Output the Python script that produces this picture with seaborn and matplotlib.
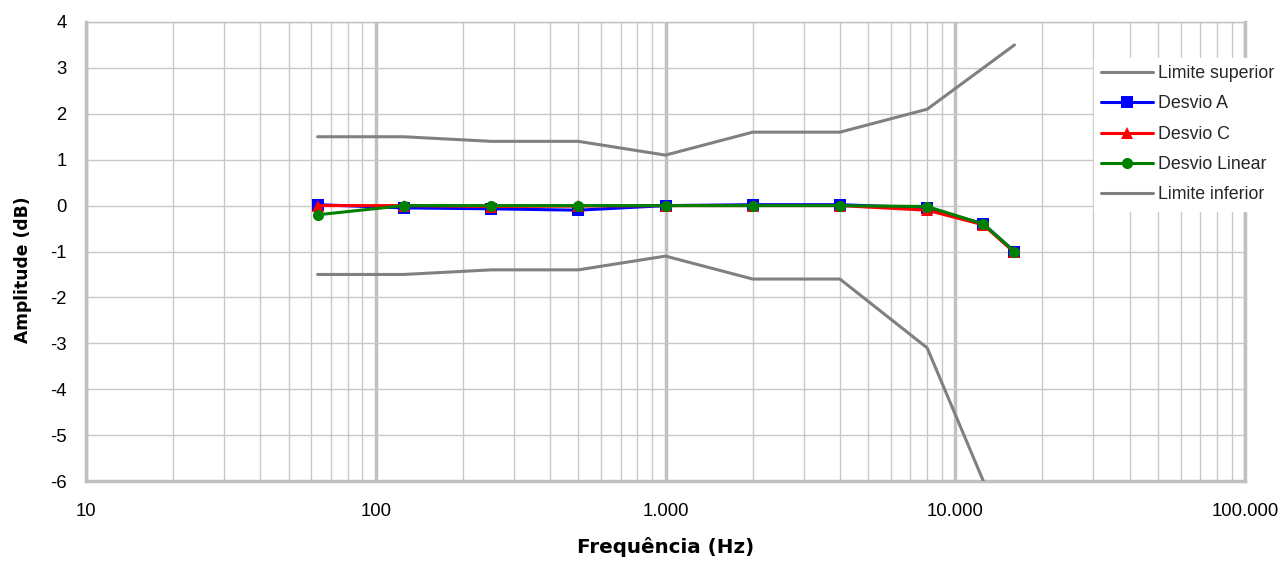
import matplotlib
matplotlib.use("Agg")
import matplotlib.pyplot as plt
import matplotlib.ticker as mticker
import seaborn as sns
import pandas as pd

freqs = [63, 125, 250, 500, 1000, 2000, 4000, 8000, 12500, 16000]
limite_superior = [1.5, 1.5, 1.4, 1.4, 1.1, 1.6, 1.6, 2.1, 3.0, 3.5]
desvio_a = [0.02, -0.05, -0.07, -0.1, 0.0, 0.02, 0.02, -0.05, -0.4, -1.0]
desvio_c = [0.0, 0.0, -0.02, -0.01, 0.0, 0.0, 0.0, -0.1, -0.42, -1.02]
desvio_linear = [-0.2, 0.0, 0.0, 0.0, 0.0, 0.0, 0.0, -0.02, -0.4, -1.0]
limite_inferior = [-1.5, -1.5, -1.4, -1.4, -1.1, -1.6, -1.6, -3.1, -6.0, -17.0]
x_ticks = [10, 100, 1000, 10000, 100000]
x_tick_labels = ["10", "100", "1.000", "10.000", "100.000"]

sns.set_theme(style="white")
plt.rcParams['font.family'] = ['Liberation Sans', 'DejaVu Sans']
plt.rcParams['axes.unicode_minus'] = False

fig = plt.figure(figsize=(12.85, 5.66), dpi=100)
ax = fig.add_axes([86/1285, 1 - 481/566, (1245-86)/1285, (481-22)/566])

series = [
    ("Limite superior", limite_superior, "#808080", None),
    ("Desvio A", desvio_a, "#0000ff", "s"),
    ("Desvio C", desvio_c, "#ff0000", "^"),
    ("Desvio Linear", desvio_linear, "#008000", "o"),
    ("Limite inferior", limite_inferior, "#808080", None),
]
for name, vals, color, marker in series:
    df = pd.DataFrame({"f": freqs, "v": vals})
    sns.lineplot(data=df, x="f", y="v", ax=ax, color=color, linewidth=2.2,
                 marker=marker, markersize=8 if marker else 0,
                 markeredgewidth=0, label=name, zorder=3)

ax.set_xscale("log")
ax.set_xlim(10, 100000)
ax.set_ylim(-6, 4)
ax.set_yticks(range(-6, 5))
ax.set_xticks(x_ticks)
ax.set_xticklabels(x_tick_labels)
ax.xaxis.set_minor_locator(mticker.LogLocator(base=10, subs=range(2, 10)))
ax.xaxis.set_minor_formatter(mticker.NullFormatter())
ax.grid(which="major", axis="x", color="#c0c0c0", linewidth=2.5, zorder=0)
ax.grid(which="minor", axis="x", color="#c8c8c8", linewidth=1, zorder=0)
ax.grid(which="major", axis="y", color="#c8c8c8", linewidth=1, zorder=0)
ax.tick_params(axis="both", which="both", length=0, labelsize=13.3, colors="black")
ax.tick_params(axis="x", pad=16)
ax.tick_params(axis="y", pad=14)
for s in ax.spines.values():
    s.set_color("#c0c0c0")
    s.set_linewidth(2.5)
ax.spines["top"].set_linewidth(1)
ax.set_axisbelow(True)

ax.set_xlabel("Frequência (Hz)", fontsize=14.3, fontweight="bold", family="DejaVu Sans",
              labelpad=12, color="black")
ax.set_ylabel("Amplitude (dB)", fontsize=12.3, fontweight="bold", family="DejaVu Sans",
              color="black")
ax.yaxis.set_label_coords(-0.047, 0.46)

leg = ax.legend(loc="upper left", bbox_to_anchor=(1094/1285, 1 - 58/566),
                bbox_transform=fig.transFigure, frameon=True, fontsize=12.8,
                handlelength=2.9, handletextpad=0.3, labelspacing=0.75,
                borderaxespad=0, borderpad=0.4)
leg.get_frame().set_facecolor("white")
leg.get_frame().set_edgecolor("white")
leg.get_frame().set_alpha(1)
leg.get_frame().set_boxstyle("square", pad=0)

fig.savefig("out.png", dpi=100)
